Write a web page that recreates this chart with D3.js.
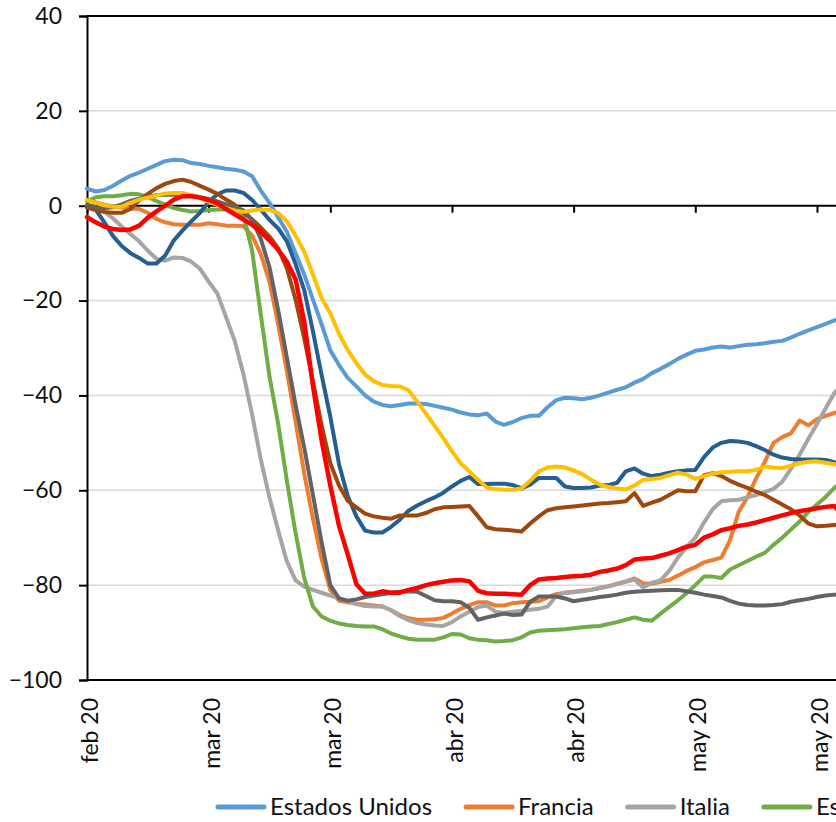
<!DOCTYPE html>
<html><head><meta charset="utf-8">
<script src="https://cdn.jsdelivr.net/npm/d3@7"></script>
<style>html,body{margin:0;padding:0;background:#fff;overflow:hidden}</style>
</head><body>
<svg id="chart" width="836" height="822"></svg>
<script>
// ---------- DATA ----------
const startDate = "2020-02-22";   // first daily observation
const seriesNames = ["Estados Unidos","Francia","Italia","España","Alemania","Brasil","Argentina","México","Chile"];
const seriesColors = ["#5B9BD5","#ED7D31","#A5A5A5","#70AD47","#255E91","#9E480E","#636363","#FFC000","#FF0000"];

const estadosUnidos = [3.6,3.0,3.3,4.2,5.3,6.3,7.0,7.8,8.6,9.4,
  9.7,9.6,9.0,8.8,8.4,8.1,7.8,7.6,7.2,6.2,
  3.2,0.6,-2.5,-5.5,-10.0,-14.5,-19.8,-25.0,-30.5,-33.6,
  -36.3,-38.1,-40.0,-41.3,-42.0,-42.3,-42.0,-41.7,-41.7,-41.8,
  -42.2,-42.6,-43.0,-43.6,-44.0,-44.2,-43.8,-45.5,-46.2,-45.6,
  -44.8,-44.3,-44.3,-42.5,-41.0,-40.5,-40.6,-40.8,-40.5,-40.0,
  -39.4,-38.8,-38.3,-37.3,-36.5,-35.3,-34.4,-33.4,-32.3,-31.4,
  -30.6,-30.3,-29.9,-29.7,-29.9,-29.6,-29.3,-29.2,-29.0,-28.7,
  -28.5,-27.8,-27.0,-26.3,-25.6,-24.9,-24.2,-23.7];
const francia = [1.2,0.7,0.2,-0.1,-0.4,-0.6,-0.7,-1.5,-2.8,-3.5,
  -3.9,-4.0,-4.0,-4.0,-3.7,-3.9,-4.2,-4.2,-4.3,-6.3,
  -10.2,-16.0,-25.0,-34.8,-45.5,-56.5,-66.0,-74.5,-81.0,-83.3,
  -83.6,-83.9,-84.1,-84.3,-84.5,-85.3,-86.3,-87.0,-87.3,-87.3,
  -87.2,-86.9,-86.0,-85.0,-84.2,-83.6,-83.6,-84.3,-84.3,-83.8,
  -83.6,-83.5,-83.4,-82.6,-81.9,-81.6,-81.4,-81.2,-81.0,-80.6,
  -80.2,-79.7,-79.2,-78.6,-79.6,-79.7,-79.3,-78.9,-78.0,-77.0,
  -76.2,-75.2,-74.7,-74.2,-70.5,-64.5,-61.5,-57.5,-54.0,-50.0,
  -48.8,-48.0,-45.3,-46.3,-45.0,-44.3,-43.7,-43.3];
const italia = [-0.1,-0.6,-1.3,-2.7,-4.4,-6.0,-7.5,-9.5,-11.2,-11.6,
  -10.9,-11.0,-11.8,-13.3,-16.0,-18.5,-23.5,-28.5,-35.5,-44.0,
  -53.5,-61.5,-68.5,-75.0,-79.0,-80.3,-81.0,-81.6,-82.2,-82.8,
  -83.4,-84.0,-84.4,-84.5,-84.5,-85.3,-86.5,-87.4,-88.0,-88.3,
  -88.5,-88.6,-87.8,-86.6,-85.6,-84.6,-84.3,-85.6,-85.8,-85.6,
  -85.4,-85.2,-85.0,-84.5,-82.3,-81.6,-81.5,-81.3,-81.0,-80.6,
  -80.3,-79.8,-79.3,-78.8,-80.5,-79.5,-79.0,-77.0,-74.2,-72.0,
  -70.0,-66.8,-64.0,-62.3,-62.1,-62.0,-61.5,-61.0,-60.4,-59.7,
  -58.2,-55.5,-52.5,-49.2,-46.0,-42.7,-39.5,-37.5];
const espana = [0.9,1.8,2.0,2.0,2.2,2.5,2.4,1.8,1.0,0.2,
  -0.5,-0.9,-1.2,-1.1,-0.9,-0.8,-0.8,-0.9,-2.0,-9.5,
  -23.0,-36.0,-46.0,-58.0,-69.0,-78.5,-84.5,-86.6,-87.5,-88.1,
  -88.4,-88.6,-88.7,-88.7,-89.3,-90.2,-90.8,-91.3,-91.5,-91.5,
  -91.5,-91.0,-90.3,-90.4,-91.2,-91.5,-91.6,-91.9,-91.8,-91.6,
  -91.0,-90.0,-89.6,-89.5,-89.4,-89.3,-89.1,-88.9,-88.7,-88.6,
  -88.2,-87.8,-87.3,-86.8,-87.3,-87.5,-86.0,-84.6,-83.2,-81.7,
  -80.0,-78.2,-78.2,-78.5,-76.7,-75.8,-74.9,-74.0,-73.2,-71.5,
  -70.0,-68.3,-66.6,-64.6,-63.0,-61.4,-59.5,-58.0];
const alemania = [-0.1,-0.8,-3.5,-6.4,-8.5,-10.0,-11.0,-12.2,-12.2,-10.5,
  -7.3,-5.2,-3.3,-1.5,0.8,2.4,3.2,3.2,2.7,1.2,
  -0.8,-3.0,-4.8,-7.5,-12.3,-17.8,-26.5,-35.7,-44.5,-54.5,
  -61.2,-65.5,-68.5,-68.9,-68.9,-67.7,-66.2,-64.3,-63.2,-62.3,
  -61.5,-60.5,-59.2,-58.0,-57.2,-58.7,-58.7,-58.6,-58.6,-58.9,
  -59.6,-58.8,-57.4,-57.4,-57.4,-59.2,-59.5,-59.5,-59.4,-59.0,
  -58.9,-58.4,-56.0,-55.4,-56.5,-57.0,-56.7,-56.3,-56.0,-55.8,
  -55.7,-53.0,-51.0,-50.0,-49.6,-49.7,-50.0,-50.7,-51.5,-52.5,
  -53.1,-53.4,-53.5,-53.5,-53.5,-53.6,-54.1,-54.5];
const brasil = [-0.4,-0.9,-1.3,-1.5,-1.5,-0.7,1.2,2.5,3.7,4.6,
  5.2,5.5,5.0,4.2,3.4,2.5,1.3,0.2,-1.5,-2.9,
  -4.6,-6.5,-9.0,-13.2,-19.8,-28.0,-37.0,-46.3,-54.3,-59.0,
  -62.2,-63.6,-64.9,-65.5,-65.8,-66.0,-65.3,-65.3,-65.3,-64.8,
  -64.0,-63.6,-63.5,-63.4,-63.3,-65.5,-67.8,-68.2,-68.3,-68.5,
  -68.7,-67.0,-65.5,-64.2,-63.8,-63.6,-63.4,-63.2,-63.0,-62.8,
  -62.7,-62.5,-62.3,-60.6,-63.3,-62.6,-62.0,-61.0,-60.0,-60.2,
  -60.2,-56.8,-56.4,-57.0,-58.0,-58.8,-59.5,-60.3,-61.0,-62.0,
  -63.0,-64.0,-65.3,-67.0,-67.6,-67.5,-67.3,-67.2];
const argentina = [0.2,-0.3,-0.5,-0.3,0.3,1.0,1.5,1.9,2.2,2.3,
  2.3,2.3,2.2,1.8,1.4,0.9,0.3,-0.3,-1.0,-3.0,
  -7.0,-13.0,-22.0,-32.0,-42.0,-51.0,-61.0,-71.0,-80.0,-82.8,
  -83.3,-83.0,-82.5,-82.2,-81.9,-81.6,-81.4,-81.3,-81.4,-82.3,
  -83.2,-83.4,-83.4,-83.6,-84.8,-87.3,-86.8,-86.4,-86.0,-86.3,
  -86.2,-83.5,-82.4,-82.4,-82.4,-82.8,-83.4,-83.1,-82.8,-82.5,
  -82.3,-82.0,-81.6,-81.4,-81.3,-81.2,-81.1,-81.0,-81.0,-81.3,
  -81.6,-82.0,-82.3,-82.6,-83.3,-83.9,-84.2,-84.3,-84.3,-84.2,
  -84.0,-83.5,-83.2,-82.9,-82.5,-82.2,-82.0,-81.9];
const mexico = [1.2,0.6,0.1,-0.2,-0.2,0.6,1.3,1.7,2.1,2.6,
  2.7,2.7,2.2,1.6,0.8,0.2,-0.5,-1.0,-1.3,-1.0,
  -0.8,-0.9,-1.5,-3.3,-6.3,-9.7,-14.5,-19.5,-22.7,-27.0,
  -30.4,-33.2,-35.6,-37.0,-37.8,-38.0,-38.1,-38.9,-41.3,-43.8,
  -46.4,-49.0,-51.8,-54.3,-56.0,-57.8,-59.4,-59.8,-59.9,-59.9,
  -59.6,-58.0,-56.0,-55.2,-55.0,-55.2,-55.8,-56.6,-57.8,-58.8,
  -59.3,-59.6,-59.8,-59.0,-57.8,-57.6,-57.4,-56.8,-56.3,-56.7,
  -57.6,-57.0,-56.5,-56.2,-56.1,-56.0,-56.0,-55.7,-55.0,-55.2,
  -55.3,-54.8,-54.3,-54.0,-53.9,-54.2,-54.5,-54.7];
const chile = [-2.4,-3.5,-4.4,-4.9,-5.1,-5.0,-4.2,-2.5,-1.2,0.0,
  1.3,2.0,2.0,1.7,1.2,0.5,-0.7,-1.8,-2.9,-4.0,
  -5.5,-7.3,-9.3,-11.8,-15.5,-24.5,-38.0,-49.5,-59.0,-67.5,
  -73.5,-79.8,-81.8,-81.8,-81.3,-81.6,-81.6,-81.0,-80.6,-80.0,
  -79.6,-79.3,-79.0,-78.9,-79.2,-81.2,-81.7,-81.8,-81.8,-81.9,
  -82.0,-80.0,-78.8,-78.6,-78.5,-78.3,-78.1,-78.0,-77.8,-77.2,
  -76.9,-76.5,-75.8,-74.6,-74.4,-74.3,-73.8,-73.3,-72.6,-71.9,
  -71.5,-70.0,-69.3,-68.4,-68.0,-67.5,-67.2,-66.8,-66.3,-65.8,
  -65.3,-64.8,-64.4,-64.1,-63.8,-63.5,-63.3,-65.5];

const yTicks = [40,20,0,-20,-40,-60,-80,-100];
const xTickDates = ["2020-02-22","2020-03-07","2020-03-21","2020-04-04","2020-04-18","2020-05-02","2020-05-16"];
const shortMonthsEs = ["ene","feb","mar","abr","may","jun","jul","ago","sep","oct","nov","dic"];

// ---------- CHART ----------
const FONT = "Lato, 'Open Sans', sans-serif";
const W = 836;
const svg = d3.select("#chart");
const parse = d3.timeParse("%Y-%m-%d");
const locale = d3.timeFormatLocale({
  dateTime: "%x, %X", date: "%d/%m/%Y", time: "%H:%M:%S", periods: ["AM","PM"],
  days: ["domingo","lunes","martes","miércoles","jueves","viernes","sábado"],
  shortDays: ["dom","lun","mar","mié","jue","vie","sáb"],
  months: ["enero","febrero","marzo","abril","mayo","junio","julio","agosto","septiembre","octubre","noviembre","diciembre"],
  shortMonths: shortMonthsEs
});
const fmt = locale.format("%b %y");

const t0 = parse(startDate);
const pxPerDay = 8.69;
const spanDays = 95;
const left = 87;
const x = d3.scaleTime().domain([t0, d3.timeDay.offset(t0, spanDays)]).range([left, left + spanDays * pxPerDay]);
const y = d3.scaleLinear().domain([-100, 40]).range([680, 16]);
const xRight = x.range()[1];

const allSeries = [estadosUnidos, francia, italia, espana, alemania, brasil, argentina, mexico, chile];

// gridlines
svg.append("g").selectAll("line").data(yTicks.filter(v => v !== 0 && v !== 40 && v !== -100)).join("line")
  .attr("x1", left).attr("x2", xRight).attr("y1", d => y(d)).attr("y2", d => y(d))
  .attr("stroke", "#D9D9D9").attr("stroke-width", 1.5);

// plot border top & bottom
[40, -100].forEach(v => svg.append("line").attr("x1", left).attr("x2", xRight)
  .attr("y1", y(v)).attr("y2", y(v)).attr("stroke", "#000").attr("stroke-width", 2));

// left axis
const yAxis = svg.append("g").attr("transform", `translate(${left},0)`)
  .call(d3.axisLeft(y).tickValues(yTicks).tickSize(8).tickPadding(17).tickFormat(d3.format("d")));
yAxis.select(".domain").attr("stroke", "#000").attr("stroke-width", 2);
yAxis.selectAll(".tick line").attr("stroke", "#000").attr("stroke-width", 2);
yAxis.selectAll("text").attr("font-family", FONT).attr("font-size", 23).attr("fill", "#111");

// zero axis with ticks
const tickDates = xTickDates.map(parse);
const zAxis = svg.append("g").attr("transform", `translate(0,${y(0)})`)
  .call(d3.axisBottom(x).tickValues(tickDates).tickSize(7).tickFormat(""));
zAxis.select(".domain").attr("stroke", "#000").attr("stroke-width", 2).attr("d", `M${left},0H${xRight}`);
zAxis.selectAll(".tick line").attr("stroke", "#000").attr("stroke-width", 2);

// bottom labels (low position)
const bAxis = svg.append("g").attr("transform", `translate(0,${y(-100)})`)
  .call(d3.axisBottom(x).tickValues(tickDates).tickSize(0).tickFormat(fmt));
bAxis.select(".domain").remove();
bAxis.selectAll("text")
  .attr("font-family", FONT).attr("font-size", 23).attr("fill", "#111")
  .attr("text-anchor", "end").attr("transform", "rotate(-90)")
  .attr("x", -18).attr("y", 0).attr("dy", "0.45em");

// series
const line = d3.line().x((d, i) => x(d3.timeDay.offset(t0, i))).y(d => y(d));
svg.append("g").selectAll("path").data(allSeries).join("path")
  .attr("d", d => line(d)).attr("fill", "none")
  .attr("stroke", (d, i) => seriesColors[i])
  .attr("stroke-width", (d, i) => i === 8 ? 4.5 : 4)
  .attr("stroke-linejoin", "round").attr("stroke-linecap", "round");

// legend (entries beyond the visible width are not drawn, as in the cropped reference)
const lg = svg.append("g").attr("transform", "translate(0,807)");
let lx = 216;
for (let i = 0; i < seriesNames.length && lx < W; i++) {
  const g = lg.append("g").attr("transform", `translate(${lx},0)`);
  g.append("line").attr("x1", 2).attr("x2", 48).attr("y1", 0).attr("y2", 0)
    .attr("stroke", seriesColors[i]).attr("stroke-width", 5).attr("stroke-linecap", "round");
  const t = g.append("text").attr("x", 54).attr("y", 8).text(seriesNames[i])
    .attr("font-family", FONT).attr("font-size", 24).attr("fill", "#111");
  lx += 54 + t.node().getComputedTextLength() + 32;
}
</script>
</body></html>
